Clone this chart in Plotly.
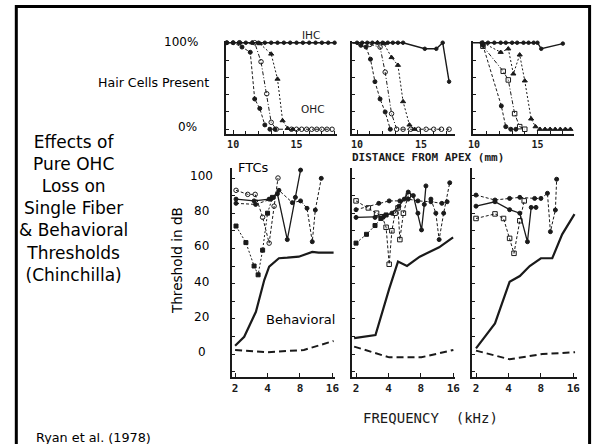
import plotly.graph_objects as go

W, H = 600, 444

# ---------------- data: hair cells present (distance from apex, mm ; % present) ----
p1_ihc_mm = [9.5, 10.0, 10.5, 11.0, 11.5, 12.0, 12.5, 13.0, 13.5, 14.0, 14.5, 15.0, 15.5, 16.0, 16.5, 17.0, 17.5, 18.0]
p1_ihc_pc = [100] * 18
p1_a_mm = [9.5, 10.0, 10.7, 11.35, 11.7, 12.1, 12.5, 12.9, 13.3]
p1_a_pc = [100, 100, 95, 89, 35, 24, 5, 0, 0]
p1_b_mm = [10.5, 11.7, 12.2, 12.65, 13.0, 13.4, 14.6, 15.0, 15.4, 15.8, 16.2, 16.6, 17.0, 17.4, 17.8]
p1_b_pc = [100, 100, 78, 41, 8, 0, 0, 0, 0, 0, 0, 0, 0, 0, 0]
p1_c_mm = [11.5, 12.1, 13.0, 13.5, 13.9, 14.3, 14.7]
p1_c_pc = [100, 99, 87, 58, 10, 1, 0]

p2_ihc_mm = [9.6, 10.0, 10.4, 10.8, 11.2, 11.6, 12.0, 12.4, 12.8, 13.2, 13.6, 15.3, 16.2, 16.7, 17.2]
p2_ihc_pc = [100, 100, 100, 100, 100, 100, 100, 100, 100, 100, 100, 93, 93, 100, 55]
p2_a_mm = [9.6, 10.3, 10.7, 11.05, 11.4, 11.8, 12.2, 12.6]
p2_a_pc = [100, 97, 95, 81, 55, 35, 20, 0]
p2_b_mm = [11.0, 11.8, 12.2, 12.7, 13.1, 13.6, 14.2, 14.8, 15.4, 16.0, 16.6, 17.2]
p2_b_pc = [98, 95, 66, 18, 0, 0, 0, 0, 0, 0, 0, 0]
p2_c_mm = [11.6, 12.1, 12.7, 13.2, 13.6, 14.1, 14.5]
p2_c_pc = [100, 99, 83, 74, 32, 5, 0]

p3_ihc_mm = [9.9, 10.6, 11.1, 11.6, 12.1, 12.5, 13.0, 13.4, 13.9, 14.3, 14.7, 15.0, 15.3, 17.0]
p3_ihc_pc = [100, 100, 100, 100, 100, 100, 100, 100, 100, 100, 100, 100, 93, 99]
p3_a_mm = [10.7, 12.15, 12.5, 12.9, 13.3]
p3_a_pc = [97, 27, 3, 0, 0]
p3_b_mm = [10.7, 12.3, 12.7, 13.2, 13.6, 14.0]
p3_b_pc = [96, 67, 57, 18, 3, 0]
p3_c_mm = [10.7, 12.1, 12.7, 13.1, 13.6, 14.0, 14.5, 14.85, 15.2, 15.6, 16.0, 16.4, 16.8, 17.2, 17.6]
p3_c_pc = [100, 89, 93, 64, 86, 56, 12, 3, 0, 0, 0, 0, 0, 0, 0]

# ---------------- data: thresholds (frequency kHz ; dB) ----------------------------
b1_f = [2.0, 2.43, 3.12, 3.73, 4.14, 5.1, 6.1, 7.8, 10.4, 11.9, 16.4]
b1_db = [4.7, 9.8, 24, 42, 49.6, 54.4, 54.7, 55.3, 58, 57.6, 57.6]
d1_f = [2.0, 4.0, 8.7, 16.4]
d1_db = [2.3, 1.0, 2.3, 7.4]
f1a_f = [2.04, 2.62, 3.07, 3.6, 4.14, 4.6, 5.0]
f1a_db = [93, 90.7, 90.7, 77.7, 63, 84, 100]
f1b_f = [2.04, 3.0, 4.14, 4.94, 6.1, 7.25, 8.1]
f1b_db = [88, 87, 88, 91, 65, 89, 104.5]
f1c_f = [2.04, 3.1, 4.3, 5.1, 6.8, 8.1, 9.3, 10.4, 11.1, 12.6]
f1c_db = [85.6, 85, 88, 93, 86, 87, 82.8, 63.8, 81.8, 99.8]
f1d_f = [2.04, 2.52, 3.0, 3.27, 3.6, 4.0, 4.45]
f1d_db = [72.7, 63.3, 50, 45, 59, 80, 89]

b2_f = [1.92, 3.03, 4.06, 4.9, 5.94, 7.8, 11.8, 15.9]
b2_db = [9, 10.8, 37, 52.5, 50, 55.3, 60.6, 66.3]
d2_f = [1.92, 4.06, 8.07, 16.0]
d2_db = [4.2, -1.9, -1.9, 2.3]
f2a_f = [2.0, 3.25, 4.06, 5.1, 6.1, 7.5, 9.9, 12.5, 14.0]
f2a_db = [82, 85.6, 87, 87, 88, 87, 86.5, 85.6, 86.5]
f2b_f = [2.0, 3.0, 3.6, 4.3, 5.0, 5.6, 6.1, 6.8, 7.5, 8.1, 8.6, 8.9]
f2b_db = [77.6, 77.6, 78, 80, 84, 88, 92, 90, 80, 70.5, 85, 95.5]
f2c_f = [2.0, 2.6, 3.1, 3.5, 3.8, 4.06, 4.3, 4.6, 4.9, 5.1, 5.5, 6.1]
f2c_db = [87, 83, 80, 78, 72, 51, 70, 80, 83, 65, 80, 90]
f2d_f = [9.9, 11.0, 11.8, 13.0, 14.8]
f2d_db = [88, 80, 65, 80, 97.3]
f2e_f = [2.0, 2.5, 3.0, 3.4, 3.8]
f2e_db = [63, 68, 73, 77, 79]

b3_f = [2.0, 3.0, 4.1, 5.1, 6.3, 8.0, 10.2, 12.6, 16.4]
b3_db = [3.2, 17.4, 41, 44.3, 50, 54.4, 54.4, 68, 79.5]
d3_f = [2.0, 4.1, 8.3, 16.6]
d3_db = [1.9, -3, 0, 1]
f3a_f = [2.0, 3.0, 4.1, 5.1, 7.0, 8.0, 9.2, 9.8, 10.9, 11.2]
f3a_db = [90.3, 87.5, 88.4, 89, 88.4, 88.4, 91.3, 69.5, 81.8, 99.3]
f3b_f = [2.0, 3.0, 4.1, 5.1, 6.0, 6.5, 7.2]
f3b_db = [84, 86.5, 82, 80, 63.8, 83.3, 83.3]
f3c_f = [2.0, 3.0, 3.6, 4.1, 4.5, 5.1, 5.6]
f3c_db = [77, 79.6, 77, 65.7, 57.2, 75.7, 87]

mm_ticks = [10, 15]
freq_ticks = [2, 4, 8, 16]
freq_tick_text = ["2", "4", "8", "16"]
db_labels = [100, 80, 60, 40, 20, 0]

INK = "#1a1a1a"
fig = go.Figure()


def line(xa, ya, x, y, dash="solid", sym="circle", width=1.0, size=4, mode="lines+markers"):
    fig.add_trace(go.Scatter(
        x=x, y=y, xaxis=xa, yaxis=ya, mode=mode, showlegend=False, cliponaxis=False,
        line=dict(color=INK, width=width, dash=dash),
        marker=dict(symbol=sym, size=size, color=INK, line=dict(color=INK, width=1)),
    ))


# top panels
line("x", "y", p1_ihc_mm, p1_ihc_pc, "solid", "circle", 1.4, 3.5)
line("x", "y", p1_a_mm, p1_a_pc, "3px,2px", "circle", 1.0, 4)
line("x", "y", p1_b_mm, p1_b_pc, "4px,2px,1px,2px", "circle-open", 1.0, 4.5)
line("x", "y", p1_c_mm, p1_c_pc, "2px,2px", "triangle-up", 1.0, 4.5)

line("x2", "y2", p2_ihc_mm, p2_ihc_pc, "solid", "circle", 1.4, 3.5)
line("x2", "y2", p2_a_mm, p2_a_pc, "3px,2px", "circle", 1.0, 4)
line("x2", "y2", p2_b_mm, p2_b_pc, "4px,2px,1px,2px", "circle-open", 1.0, 4.5)
line("x2", "y2", p2_c_mm, p2_c_pc, "2px,2px", "triangle-up", 1.0, 4.5)

line("x3", "y3", p3_ihc_mm, p3_ihc_pc, "solid", "circle", 1.4, 3.5)
line("x3", "y3", p3_a_mm, p3_a_pc, "3px,2px", "circle", 1.0, 4)
line("x3", "y3", p3_b_mm, p3_b_pc, "4px,2px,1px,2px", "square-open", 1.0, 4.5)
line("x3", "y3", p3_c_mm, p3_c_pc, "2px,2px", "triangle-up", 1.0, 4.5)

# bottom panels
line("x4", "y4", b1_f, b1_db, "solid", "circle", 2.2, 0, "lines")
line("x4", "y4", d1_f, d1_db, "7px,4px", "circle", 2.0, 0, "lines")
line("x4", "y4", f1a_f, f1a_db, "3px,2px", "circle-open", 1.0, 4.5)
line("x4", "y4", f1b_f, f1b_db, "solid", "circle", 1.3, 4)
line("x4", "y4", f1c_f, f1c_db, "3px,2px", "circle", 1.0, 4)
line("x4", "y4", f1d_f, f1d_db, "2px,2px", "square", 1.0, 4)

line("x5", "y5", b2_f, b2_db, "solid", "circle", 2.2, 0, "lines")
line("x5", "y5", d2_f, d2_db, "7px,4px", "circle", 2.0, 0, "lines")
line("x5", "y5", f2a_f, f2a_db, "3px,2px", "circle", 1.0, 4)
line("x5", "y5", f2b_f, f2b_db, "solid", "circle", 1.3, 4)
line("x5", "y5", f2c_f, f2c_db, "3px,2px", "square-open", 1.0, 4.5)
line("x5", "y5", f2d_f, f2d_db, "3px,2px", "circle", 1.0, 4)
line("x5", "y5", f2e_f, f2e_db, "2px,2px", "square", 1.0, 4)

line("x6", "y6", b3_f, b3_db, "solid", "circle", 2.2, 0, "lines")
line("x6", "y6", d3_f, d3_db, "7px,4px", "circle", 2.0, 0, "lines")
line("x6", "y6", f3a_f, f3a_db, "3px,2px", "circle", 1.0, 4)
line("x6", "y6", f3b_f, f3b_db, "solid", "circle", 1.3, 4)
line("x6", "y6", f3c_f, f3c_db, "3px,2px", "square-open", 1.0, 4.5)


def px(v):
    return v / W


def py(v):
    return 1 - v / H


mono_small = dict(family="DejaVu Sans Mono", size=10, color=INK)
mono_mid = dict(family="DejaVu Sans Mono", size=11, color=INK)

top_dom_y = [py(134), py(41)]
bot_dom_y = [py(377), py(168)]

top_panels = [([225, 338], [9.457, 18.22]), ([353, 458], [9.615, 17.69]), ([476, 579], [9.922, 17.91])]
bot_panels = [([231, 336], [0.27366, 1.23168]), ([353, 458], [0.26453, 1.22256]), ([475, 582], [0.26453, 1.24080])]

lay = {}
for i, (dom, rng) in enumerate(top_panels):
    n = i + 1
    xs = "xaxis" if n == 1 else f"xaxis{n}"
    ys = "yaxis" if n == 1 else f"yaxis{n}"
    ya = "y" if n == 1 else f"y{n}"
    xa = "x" if n == 1 else f"x{n}"
    lay[xs] = dict(domain=[px(dom[0]), px(dom[1])], range=rng, anchor=ya, showgrid=False, zeroline=False,
                   showline=True, linecolor=INK, linewidth=1.5, ticks="inside", ticklen=4, tickwidth=1.2,
                   tickcolor=INK, tickvals=mm_ticks, ticktext=[f"<b>{t}</b>" for t in mm_ticks],
                   tickfont=mono_small, minor=dict(dtick=1, tick0=10, ticks="inside", ticklen=3, tickcolor=INK))
    lay[ys] = dict(domain=top_dom_y, range=[-5.5, 102], anchor=xa, showgrid=False, zeroline=False,
                   showline=True, linecolor=INK, linewidth=1.5, ticks="inside", ticklen=3, tickcolor=INK,
                   tickvals=[0, 20, 40, 60, 80, 100], showticklabels=False)

for i, (dom, rng) in enumerate(bot_panels):
    n = i + 4
    lay[f"xaxis{n}"] = dict(domain=[px(dom[0]), px(dom[1])], type="log", range=rng, anchor=f"y{n}",
                            showgrid=False, zeroline=False, showline=True, linecolor=INK, linewidth=1.5,
                            ticks="inside", ticklen=4, tickwidth=1.2, tickcolor=INK, tickvals=freq_ticks,
                            ticktext=[f"<b>{t}</b>" for t in freq_tick_text], tickfont=mono_mid)
    lay[f"yaxis{n}"] = dict(domain=bot_dom_y, range=[-13.07, 105.68], anchor=f"x{n}", showgrid=False,
                            zeroline=False, showline=True, linecolor=INK, linewidth=1.5, ticks="inside",
                            ticklen=3, tickcolor=INK, tick0=0, dtick=10, showticklabels=False)

slide_font = "DejaVu Sans"


def note(x, y, text, size, xanchor="center", xref="paper", yref="paper", color="black", family=slide_font, **kw):
    return dict(xref=xref, yref=yref, x=x, y=y, text=text, showarrow=False, xanchor=xanchor,
                yanchor="middle", font=dict(family=family, size=size, color=color), **kw)


ann = []
ann.append(note(px(70), py(208.5),
                "Effects of<br>Pure OHC<br>Loss on<br>Single Fiber<br>&amp; Behavioral<br>Thresholds<br>(Chinchilla)",
                17, align="center"))
ann.append(note(px(198), 100, "100%", 12, xanchor="right", yref="y", yshift=1))
ann.append(note(px(197), 0, "0%", 12, xanchor="right", yref="y", yshift=2))
ann.append(note(px(151.5), py(82), "Hair Cells Present", 12.6))
for v in db_labels:
    ann.append(note(px(200), v, str(v), 12, yref="y4", yshift=2))
ann.append(note(px(175), py(261), "Threshold in dB", 13.6, textangle=-90))
ann.append(note(px(253), py(167), "FTCs", 13))
ann.append(note(px(301), py(319), "Behavioral", 13))
ann.append(note(px(311), py(35), "IHC", 10.5, color=INK))
ann.append(note(px(313.5), py(109), "OHC", 10.5, color=INK))
ann.append(note(px(90), py(437), "Ryan et al. (1978)", 12.8))
ann.append(note(px(430.5), py(157), "<b>DISTANCE FROM APEX (mm)</b>", 11, color=INK, family="DejaVu Sans Mono"))
ann.append(note(px(433), py(418), "FREQUENCY  (kHz)", 14, color=INK, family="DejaVu Sans Mono"))

fig.update_layout(
    width=W, height=H, margin=dict(l=0, r=0, t=0, b=0), autosize=False,
    paper_bgcolor="white", plot_bgcolor="white", showlegend=False,
    annotations=ann,
    shapes=[dict(type="rect", xref="paper", yref="paper", x0=px(11.5), x1=px(594.5), y0=-0.1, y1=py(6.5),
                 line=dict(color="black", width=3))],
    **lay,
)

fig.write_html("out.html")
